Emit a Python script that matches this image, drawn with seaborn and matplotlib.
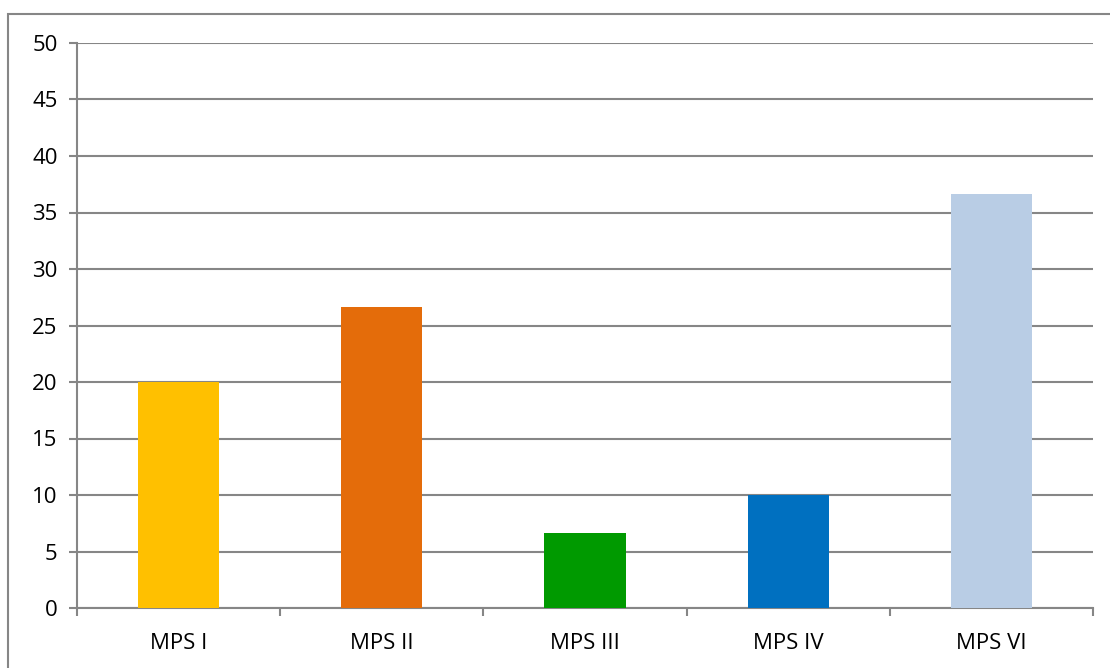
from matplotlib import pyplot as plt
from matplotlib.patches import Rectangle
import numpy as np
import pandas as pd
import seaborn as sns

categories = ['MPS I', 'MPS II', 'MPS III', 'MPS IV', 'MPS VI']
values = [20.0, 26.67, 6.67, 10.0, 36.67]
colors = ['#FFC000', '#E46C0A', '#009A00', '#0070C0', '#B9CDE5']
y_ticks = [0, 5, 10, 15, 20, 25, 30, 35, 40, 45, 50]

grey = '#868686'

if __name__ == "__main__":
    sns.set_style('white')
    plt.rcParams['font.family'] = ['Open Sans', 'DejaVu Sans']

    data = pd.DataFrame({'type': categories, 'value': values})

    fig = plt.figure(figsize=(11.1, 6.68), dpi=100)
    ax = fig.add_axes([77 / 1110, 1 - 608 / 668, (1093 - 77) / 1110, (608 - 43) / 668])

    sns.barplot(data=data, x='type', y='value', hue='type', palette=colors,
                width=0.4, legend=False, saturation=1, linewidth=0, ax=ax, zorder=3)

    ax.set_ylim(0, 50)
    ax.set_xlim(-0.5, len(categories) - 0.5)
    ax.set_yticks(y_ticks)
    ax.yaxis.grid(True, color=grey, linewidth=1.5, zorder=0)
    ax.set_axisbelow(True)
    ax.set_xlabel('')
    ax.set_ylabel('')

    ax.set_xticks(np.arange(-0.5, len(categories)), minor=True)
    ax.tick_params(axis='x', which='major', bottom=True, length=0, pad=18, labelsize=16)
    ax.tick_params(axis='x', which='minor', bottom=True, length=6, width=1.5,
                   color=grey, direction='out')
    ax.tick_params(axis='y', left=True, length=6, width=1.5, color=grey, pad=8, labelsize=16)
    ax.tick_params(axis='both', labelcolor='black')

    for side in ['top', 'right']:
        ax.spines[side].set_visible(False)
    for side in ['left', 'bottom']:
        ax.spines[side].set_color(grey)
        ax.spines[side].set_linewidth(1.5)

    fig.patches.append(Rectangle((8 / 1110, -0.1), 2, (668 - 14) / 668 + 0.1,
                                 transform=fig.transFigure, fill=False,
                                 edgecolor=grey, linewidth=1.5))

    plt.savefig('out.png', dpi=100)
